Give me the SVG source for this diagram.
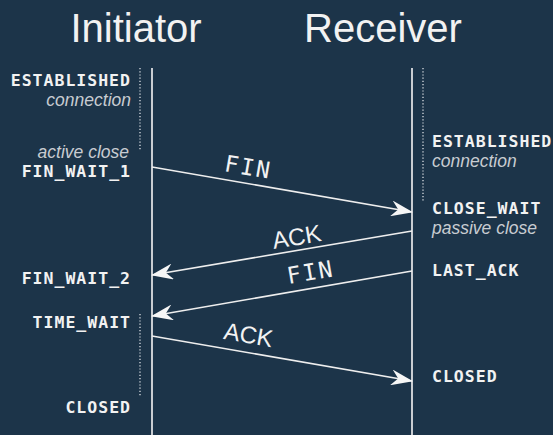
<svg xmlns="http://www.w3.org/2000/svg" width="553" height="435" viewBox="0 0 553 435">
<style>
.bg{fill:#1c3449}
.title{font-family:"Liberation Sans",Arial,sans-serif;font-size:40px;fill:#f2f2f2;text-anchor:middle}
.life{stroke:#c9cdd2;stroke-width:2;fill:none}
.dots{stroke:#c0c6ce;stroke-width:1.5;stroke-dasharray:1.2 2;fill:none}
.state{font-family:"DejaVu Sans Mono","Liberation Mono",monospace;font-weight:bold;font-size:16.5px;letter-spacing:1px;fill:#f2f2f2}
.note{font-family:"Liberation Sans",Arial,sans-serif;font-style:italic;font-size:17.5px;fill:#c8ccd1}
.r{text-anchor:end}
.msg{stroke:#eeeeee;stroke-width:1.6;fill:none;marker-end:url(#ah)}
.lblm{font-family:"DejaVu Sans Mono","Liberation Mono",monospace;font-size:23px;letter-spacing:2px;fill:#f2f2f2;text-anchor:middle}
.lbls{font-family:"Liberation Sans",Arial,sans-serif;font-size:24px;fill:#f2f2f2;text-anchor:middle}
</style>
<defs>
<marker id="ah" viewBox="0 0 22 16" refX="21" refY="8" markerWidth="22" markerHeight="16" orient="auto" markerUnits="userSpaceOnUse">
<path d="M0,0 L22,8 L0,16 L7,8 Z" fill="#f6f6f6"/>
</marker>
</defs>
<rect class="bg" x="0" y="0" width="553" height="435"/>
<g id="initiator">
<text class="title" x="136" y="42">Initiator</text>
<line class="life" x1="152" y1="68" x2="152" y2="435"/>
<line class="dots" x1="140" y1="68" x2="140" y2="150"/>
<line class="dots" x1="140" y1="314" x2="140" y2="396"/>
</g>
<g id="receiver">
<text class="title" x="383" y="42">Receiver</text>
<line class="life" x1="412" y1="68" x2="412" y2="435"/>
<line class="dots" x1="423" y1="68" x2="423" y2="202"/>
</g>
<g id="init-established">
<text class="state r" x="131" y="86">ESTABLISHED</text>
<text class="note r" x="131" y="106">connection</text>
</g>
<g id="init-fin-wait-1">
<text class="note r" x="129" y="158">active close</text>
<text class="state r" x="131" y="177">FIN_WAIT_1</text>
</g>
<g id="init-fin-wait-2">
<text class="state r" x="131" y="284">FIN_WAIT_2</text>
</g>
<g id="init-time-wait">
<text class="state r" x="131" y="328">TIME_WAIT</text>
</g>
<g id="init-closed">
<text class="state r" x="131" y="413">CLOSED</text>
</g>
<g id="recv-established">
<text class="state" x="432" y="147">ESTABLISHED</text>
<text class="note" x="432" y="167">connection</text>
</g>
<g id="recv-close-wait">
<text class="state" x="432" y="214">CLOSE_WAIT</text>
<text class="note" x="432" y="234">passive close</text>
</g>
<g id="recv-last-ack">
<text class="state" x="432" y="276">LAST_ACK</text>
</g>
<g id="recv-closed">
<text class="state" x="432" y="382">CLOSED</text>
</g>
<g id="connectors">
<line class="msg" x1="152" y1="167" x2="412" y2="212"/>
<text class="lblm" x="247" y="175" transform="rotate(9.8 247 175)">FIN</text>
<line class="msg" x1="412" y1="231" x2="152" y2="275"/>
<text class="lbls" x="298" y="245" transform="rotate(-9.6 298 245)">ACK</text>
<line class="msg" x1="412" y1="271" x2="152" y2="316"/>
<text class="lblm" x="312" y="280" transform="rotate(-9.8 312 280)">FIN</text>
<line class="msg" x1="152" y1="336" x2="412" y2="381"/>
<text class="lbls" x="247" y="343" transform="rotate(9.8 247 343)">ACK</text>
</g>
</svg>
